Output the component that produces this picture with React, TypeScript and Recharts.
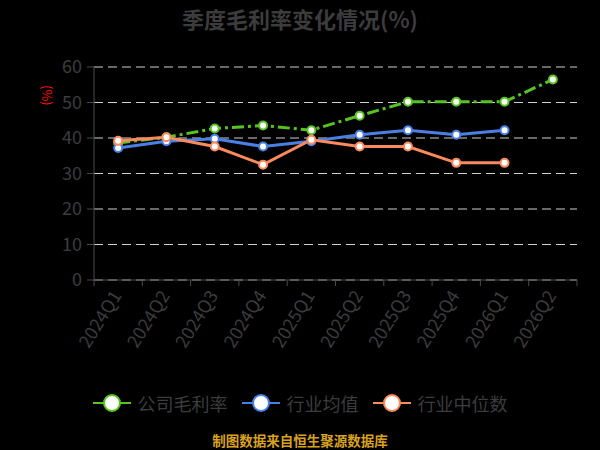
import React from 'react';
import { LineChart, Line, XAxis, YAxis, CartesianGrid } from 'recharts';

const quarters = [
  '2024Q1', '2024Q2', '2024Q3', '2024Q4', '2025Q1',
  '2025Q2', '2025Q3', '2025Q4', '2026Q1', '2026Q2',
];
const companyMargin = [38.6, 40.2, 42.7, 43.5, 42.2, 46.3, 50.2, 50.2, 50.2, 56.5];
const industryAvg = [37.2, 39.1, 39.8, 37.6, 39.1, 40.9, 42.2, 40.9, 42.2, null];
const industryMedian = [39.2, 40.2, 37.6, 32.5, 39.5, 37.6, 37.6, 33.0, 33.0, null];
const yTicks = [0, 10, 20, 30, 40, 50, 60];

const series = [
  { key: 'company', name: '公司毛利率', color: '#57c323', dash: '12 4 3 4' },
  { key: 'avg', name: '行业均值', color: '#4a80e6', dash: undefined },
  { key: 'median', name: '行业中位数', color: '#fb8a5c', dash: undefined },
];

const data = quarters.map((q, i) => ({
  quarter: q,
  company: companyMargin[i],
  avg: industryAvg[i],
  median: industryMedian[i],
}));

const FONT = '"Noto Sans CJK SC", "Noto Sans", sans-serif';
const TEXT = '#3c3c3c';

const XTick = (props: any) => {
  const { x, y, payload, index } = props;
  const off = payload?.offset ?? 0;
  const last = index === quarters.length - 1;
  const ty = y + 13;
  return (
    <g>
      <line x1={x - off} y1={y} x2={x - off} y2={y + 6} stroke="#4a4a4a" />
      {last && <line x1={x + off} y1={y} x2={x + off} y2={y + 6} stroke="#4a4a4a" />}
      <text
        x={x}
        y={ty}
        textAnchor="end"
        dominantBaseline="middle"
        fill={TEXT}
        fontSize={18}
        fontFamily={FONT}
        transform={`rotate(-58, ${x}, ${ty})`}
      >
        {payload.value}
      </text>
    </g>
  );
};

const LegendRow = () => (
  <div
    style={{
      position: 'absolute',
      top: 390,
      left: 0,
      width: 600,
      display: 'flex',
      justifyContent: 'center',
      gap: 14,
      fontFamily: FONT,
      fontSize: 18,
      color: TEXT,
    }}
  >
    {series.map((s) => (
      <div key={s.key} style={{ display: 'flex', alignItems: 'center', gap: 7 }}>
        <svg width={38} height={24}>
          <line x1={0} y1={12} x2={38} y2={12} stroke={s.color} strokeWidth={2} />
          <circle cx={19} cy={12} r={8} fill="#fff" stroke={s.color} strokeWidth={2} />
        </svg>
        <span>{s.name}</span>
      </div>
    ))}
  </div>
);

export default function App() {
  return (
    <div
      style={{
        position: 'fixed',
        top: 0,
        left: 0,
        width: 600,
        height: 450,
        background: '#000',
        overflow: 'hidden',
      }}
    >
      <div
        style={{
          position: 'absolute',
          top: 3,
          width: 600,
          textAlign: 'center',
          fontFamily: FONT,
          fontWeight: 'bold',
          fontSize: 22,
          lineHeight: '30px',
          color: TEXT,
        }}
      >
        季度毛利率变化情况(%)
      </div>
      <div
        style={{
          position: 'absolute',
          left: 38,
          top: 84,
          fontFamily: FONT,
          fontSize: 13,
          color: '#ff1010',
          transform: 'rotate(90deg)',
          transformOrigin: '9px 10px',
        }}
      >
        (%)
      </div>
      <div style={{ position: 'absolute', top: 0, left: 0 }}>
        <LineChart
          width={600}
          height={450}
          data={data}
          margin={{ top: 67, right: 23, left: 34, bottom: 140 }}
        >
          <CartesianGrid
            vertical={false}
            stroke="#d0d0d0"
            strokeDasharray="9 5"
          />
          <XAxis
            dataKey="quarter"
            scale="band"
            height={30}
            interval={0}
            tickLine={false}
            tickSize={0}
            tickMargin={0}
            axisLine={{ stroke: '#4a4a4a' }}
            tick={<XTick />}
          />
          <YAxis
            width={60}
            domain={[0, 60]}
            ticks={yTicks}
            interval={0}
            tickSize={7}
            tickMargin={5}
            axisLine={{ stroke: '#4a4a4a' }}
            tickLine={{ stroke: '#4a4a4a' }}
            tick={{ fill: TEXT, fontSize: 18, fontFamily: FONT }}
          />
          {series.map((s) => (
            <Line
              key={s.key}
              dataKey={s.key}
              name={s.name}
              type="linear"
              stroke={s.color}
              strokeWidth={3}
              strokeDasharray={s.dash}
              dot={{ r: 4, fill: '#fff', stroke: s.color, strokeWidth: 2, strokeDasharray: '' }}
              activeDot={false}
              isAnimationActive={false}
            />
          ))}
        </LineChart>
      </div>
      <LegendRow />
      <div
        style={{
          position: 'absolute',
          top: 432,
          width: 600,
          textAlign: 'center',
          fontFamily: FONT,
          fontWeight: 'bold',
          fontSize: 13.5,
          lineHeight: '16px',
          color: '#d9a21e',
        }}
      >
        制图数据来自恒生聚源数据库
      </div>
    </div>
  );
}
